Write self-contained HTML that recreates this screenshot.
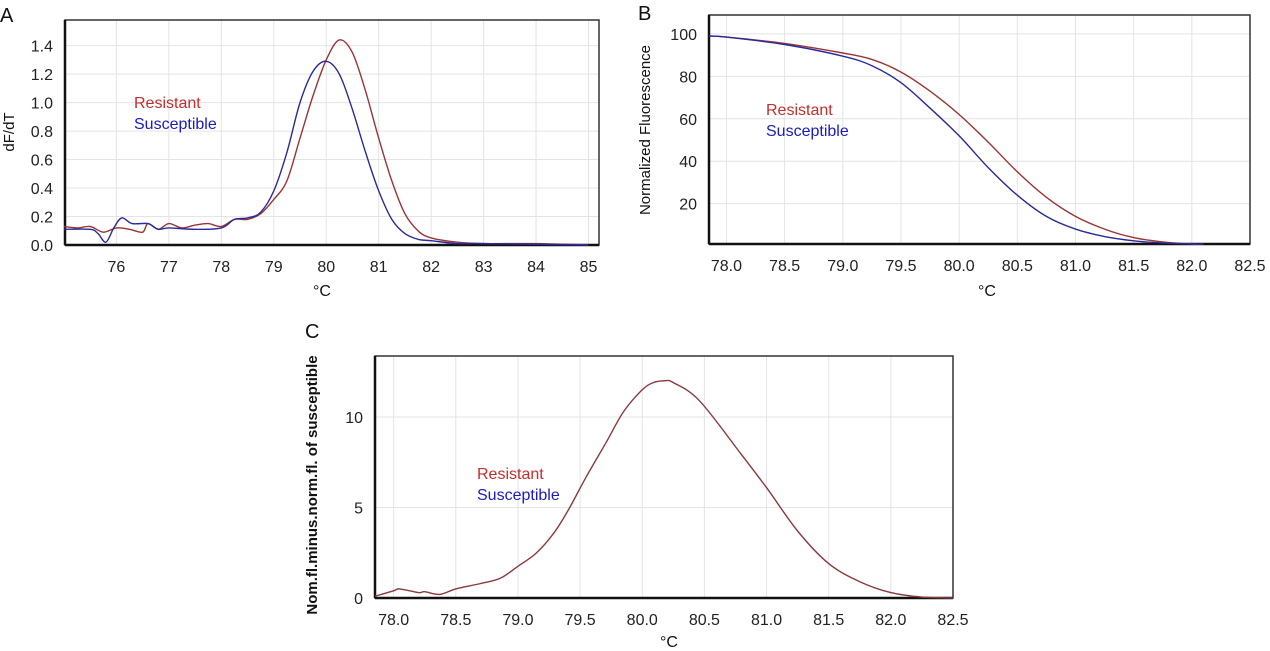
<!DOCTYPE html>
<html><head><meta charset="utf-8"><style>
body{margin:0;background:#fff;width:1270px;height:651px;overflow:hidden;font-family:"Liberation Sans",Arial,sans-serif}
svg{position:absolute;left:0;top:0}
</style></head><body>
<svg id="fig" width="1270" height="651"></svg>
<script>
// Panel A data
const aResX=[75.0,75.25,75.5,75.75,76,76.25,76.5,76.6,76.8,77,77.25,77.5,77.75,78,78.25,78.5,78.75,79,79.25,79.5,79.75,80,80.25,80.5,80.75,81,81.25,81.5,81.75,82,82.5,83,84,85];
const aResY=[0.13,0.12,0.13,0.09,0.12,0.11,0.09,0.15,0.11,0.15,0.12,0.14,0.15,0.13,0.18,0.18,0.22,0.32,0.45,0.75,1.05,1.30,1.44,1.35,1.08,0.75,0.45,0.22,0.10,0.05,0.02,0.01,0.01,0.0];
const aSusX=[75.0,75.5,75.65,75.8,75.95,76.1,76.3,76.6,76.8,77,77.5,78,78.25,78.5,78.75,79,79.25,79.5,79.75,80,80.25,80.5,80.75,81,81.25,81.5,81.75,82,82.5,83,85];
const aSusY=[0.11,0.11,0.08,0.02,0.12,0.19,0.15,0.15,0.11,0.12,0.11,0.12,0.18,0.19,0.23,0.38,0.65,1.00,1.22,1.29,1.20,0.95,0.65,0.38,0.18,0.08,0.04,0.03,0.01,0.01,0.0];
const aXTicks=[76,77,78,79,80,81,82,83,84,85];
const aYTicks=[0.0,0.2,0.4,0.6,0.8,1.0,1.2,1.4];
// Panel B data
const bX=[77.85,78,78.5,79,79.25,79.5,79.75,80,80.25,80.5,80.75,81,81.25,81.5,81.75,82,82.1];
const bResY=[99,98.5,95.5,91,88,82,73,62,49,35,23,14,8,4,2,1,1];
const bSusY=[99,98.5,95,89.5,85,77,65,52,37,24,14,8,4.5,2.5,1.5,1,1];
const bXTicks=[78.0,78.5,79.0,79.5,80.0,80.5,81.0,81.5,82.0,82.5];
const bYTicks=[20,40,60,80,100];
// Panel C data
const cX=[77.85,78,78.05,78.2,78.25,78.37,78.5,78.7,78.86,79.0,79.15,79.29,79.4,79.55,79.71,79.85,80.0,80.09,80.18,80.25,80.46,80.79,81.0,81.25,81.5,81.75,82,82.25,82.5];
const cY=[0.1,0.4,0.5,0.3,0.35,0.2,0.5,0.8,1.1,1.75,2.5,3.6,4.8,6.7,8.6,10.3,11.5,11.9,12.0,11.9,10.9,8.0,6.1,3.7,1.9,0.9,0.3,0.05,0];
const cXTicks=[78.0,78.5,79.0,79.5,80.0,80.5,81.0,81.5,82.0,82.5];
const cYTicks=[0,5,10];

const NS="http://www.w3.org/2000/svg";
const svg=document.getElementById('fig');
function el(tag,attrs,parent,text){const e=document.createElementNS(NS,tag);for(const k in attrs)e.setAttribute(k,attrs[k]);if(text!==undefined)e.textContent=text;(parent||svg).appendChild(e);return e;}
function path(xs,ys,sx,sy){let p=[];for(let i=0;i<xs.length;i++)p.push([sx(xs[i]),sy(ys[i])]);
 let d='M'+p[0][0].toFixed(1)+','+p[0][1].toFixed(1);
 for(let i=0;i<p.length-1;i++){const p0=p[Math.max(0,i-1)],p1=p[i],p2=p[i+1],p3=p[Math.min(p.length-1,i+2)];
  d+=' C'+(p1[0]+(p2[0]-p0[0])/6).toFixed(1)+','+(p1[1]+(p2[1]-p0[1])/6).toFixed(1)+' '+(p2[0]-(p3[0]-p1[0])/6).toFixed(1)+','+(p2[1]-(p3[1]-p1[1])/6).toFixed(1)+' '+p2[0].toFixed(1)+','+p2[1].toFixed(1);}
 return d;}
function panel(name,L,T,R,B,x0,x1,y0,y1,xt,yt,fmtX,fmtY){
 const g=el('g',{},svg);
 
 
 const sx=v=>L+(v-x0)/(x1-x0)*(R-L), sy=v=>B-(v-y0)/(y1-y0)*(B-T);
 xt.forEach(v=>{const l=el('line',{x1:sx(v),x2:sx(v),y1:T,y2:B,stroke:'#e4e4e4','stroke-width':1},g);
  
  const t=el('text',{x:sx(v),y:B+27,'text-anchor':'middle','font-size':16,fill:'#222'},g,fmtX(v));
  });
 yt.forEach(v=>{const l=el('line',{x1:L,x2:R,y1:sy(v),y2:sy(v),stroke:'#e4e4e4','stroke-width':1},g);
  
  const t=el('text',{x:L-12,y:sy(v)+6,'text-anchor':'end','font-size':16,fill:'#222'},g,fmtY(v));
  });
 const f=el('rect',{x:L,y:T,width:R-L,height:B-T,fill:'none',stroke:'#333','stroke-width':1.5},g);
 
 el('line',{x1:L,x2:L,y1:T,y2:B,stroke:'#111','stroke-width':2.5},g);
 el('line',{x1:L,x2:R,y1:B,y2:B,stroke:'#111','stroke-width':2.5},g);
 return {g,sx,sy};
}
function line(P,xs,ys,color,name){const p=el('path',{d:path(xs,ys,P.sx,P.sy),fill:'none',stroke:color,'stroke-width':1.4},P.g);
 }
function legend(P,x,y){const a=el('text',{x:x,y:y,'font-size':16,fill:'#c0302e'},P.g,'Resistant');
 
 const b=el('text',{x:x,y:y+21,'font-size':16,fill:'#1a1ac0'},P.g,'Susceptible');
 }
function lab(x,y,t,name,extra){const e=el('text',Object.assign({x:x,y:y,'font-size':16,fill:'#111'},extra||{}),svg,t);
 }

const RED='#9b3434', BLUE='#2a2a9a';
// A
const A=panel('panel-a',65,20,599,245,75.02,85.2,0,1.58,aXTicks,aYTicks,v=>String(v),v=>v.toFixed(1));
line(A,aResX,aResY,RED,'series-resistant-a');
line(A,aSusX,aSusY,BLUE,'series-susceptible-a');
legend(A,134,108);
lab(0,22,'A','panel-label-a',{'font-size':20});
lab(322,296,'°C','x-axis-title-a',{'text-anchor':'middle'});
lab(14,132,'dF/dT','y-axis-title-a',{'text-anchor':'middle',transform:'rotate(-90 14 132)','font-size':15});
// B
const Bp=panel('panel-b',709,15,1250,244,77.85,82.5,1,108.9,bXTicks,bYTicks,v=>v.toFixed(1),v=>String(v));
line(Bp,bX,bResY,RED,'series-resistant-b');
line(Bp,bX,bSusY,BLUE,'series-susceptible-b');
legend(Bp,766,115);
lab(638,20,'B','panel-label-b',{'font-size':20});
lab(987,296,'°C','x-axis-title-b',{'text-anchor':'middle'});
lab(650,130,'Normalized Fluorescence','y-axis-title-b',{'text-anchor':'middle',transform:'rotate(-90 650 130)','font-size':15});
// C
const C=panel('panel-c',375,356,953,598,77.85,82.5,0,13.37,cXTicks,cYTicks,v=>v.toFixed(1),v=>String(v));
line(C,cX,cY,'#8a3a3e','series-difference-c');
legend(C,477,479);
lab(305,338,'C','panel-label-c',{'font-size':20});
lab(669,647,'°C','x-axis-title-c',{'text-anchor':'middle'});
lab(317,485,'Nom.fl.minus.norm.fl. of susceptible','y-axis-title-c',{'text-anchor':'middle',transform:'rotate(-90 317 485)','font-size':15,'font-weight':'bold'});
</script>
</body></html>
